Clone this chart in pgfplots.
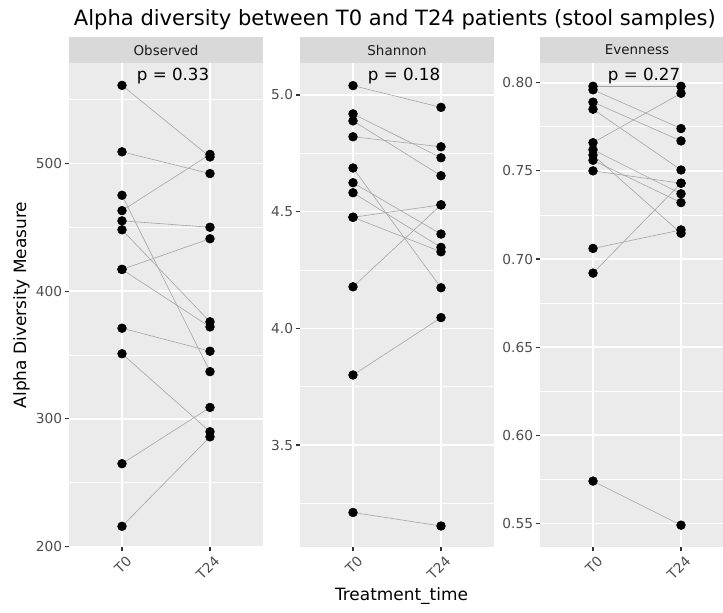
\documentclass[border=0pt]{standalone}
\usepackage{fontspec}
\setmainfont{DejaVu Sans}
\usepackage{pgfplots}
\usepackage{pgfplotstable}
\pgfplotsset{compat=1.18}
\definecolor{panelbg}{RGB}{235,235,235}
\definecolor{stripbg}{RGB}{217,217,217}
\definecolor{axistext}{RGB}{77,77,77}
\definecolor{striptext}{RGB}{26,26,26}
\definecolor{tickc}{RGB}{51,51,51}
\definecolor{linec}{RGB}{165,165,165}

\pgfplotstableread{
t0 t24
561 505
509 492
475 337
463 507
455 450
448 376
417 441
417 372
371 353
351 290
265 309
216 286
}\obs
\pgfplotstableread{
t0 t24
5.040 4.947
4.919 4.731
4.889 4.654
4.821 4.778
4.687 4.174
4.624 4.404
4.581 4.347
4.476 4.529
4.476 4.328
4.178 4.529
3.800 4.046
3.211 3.153
}\sha
\pgfplotstableread{
t0 t24
0.798 0.798
0.796 0.774
0.789 0.767
0.785 0.7505
0.766 0.794
0.762 0.737
0.759 0.7146
0.756 0.732
0.750 0.743
0.706 0.7165
0.692 0.743
0.574 0.549
}\eve

\pgfplotsset{
  facet/.style={
    scale only axis, width=145.2pt, height=363pt, anchor=south west,
    xmin=0.4, xmax=2.6, xtick={1,2}, xticklabels={T0,T24},
    axis background/.style={fill=panelbg},
    axis line style={draw=none},
    xmajorgrids, ymajorgrids, yminorgrids,
    major grid style={white, line width=1.2pt},
    minor grid style={white, line width=0.6pt},
    tick align=outside, xtick pos=bottom, ytick pos=left,
    major tick length=3.15pt, minor tick length=0pt,
    every tick/.style={color=tickc, line width=0.8pt},
    tick label style={font=\fontsize{10.3}{12}\selectfont, text=axistext},
    x tick label style={rotate=45, anchor=north east, inner sep=1pt, yshift=-2.5pt, xshift=1pt},
    y tick label style={anchor=east, inner sep=2pt},
    /pgf/number format/assume math mode=true,
  },
  pairline/.style={linec, line width=0.45pt},
  pt/.style={only marks, mark=*, mark size=3.3pt, black},
}

\begin{document}
\begin{tikzpicture}
\useasboundingbox (0,0) rectangle (542.25pt,459pt);
\clip (0,0) rectangle (542.25pt,459pt);

% Observed
\begin{axis}[facet, name=ax1, at={(51.9pt,48.75pt)},
  ymin=199.8, ymax=578.5, ytick={200,300,400,500}, minor ytick={250,350,450,550}]
\addplot[pairline, quiver={u=1, v=\thisrow{t24}-\thisrow{t0}}] table[x expr=1, y=t0] {\obs};
\addplot[pt] table[x expr=1, y=t0] {\obs};
\addplot[pt] table[x expr=2, y=t24] {\obs};
\node[font=\fontsize{12.5}{15}\selectfont] at (axis cs:1.58,568) {p = 0.33};
\end{axis}

% Shannon
\begin{axis}[facet, name=ax2, at={(225.15pt,48.75pt)},
  ymin=3.063, ymax=5.137, ytick={3.5,4.0,4.5,5.0}, minor ytick={3.25,3.75,4.25,4.75},
  yticklabel style={/pgf/number format/.cd, fixed, fixed zerofill, precision=1}]
\addplot[pairline, quiver={u=1, v=\thisrow{t24}-\thisrow{t0}}] table[x expr=1, y=t0] {\sha};
\addplot[pt] table[x expr=1, y=t0] {\sha};
\addplot[pt] table[x expr=2, y=t24] {\sha};
\node[font=\fontsize{12.5}{15}\selectfont] at (axis cs:1.58,5.081) {p = 0.18};
\end{axis}

% Evenness
\begin{axis}[facet, name=ax3, at={(405.15pt,48.75pt)},
  ymin=0.5366, ymax=0.8112, ytick={0.55,0.60,0.65,0.70,0.75,0.80},
  minor ytick={0.575,0.625,0.675,0.725,0.775},
  yticklabel style={/pgf/number format/.cd, fixed, fixed zerofill, precision=2}]
\addplot[pairline, quiver={u=1, v=\thisrow{t24}-\thisrow{t0}}] table[x expr=1, y=t0] {\eve};
\addplot[pt] table[x expr=1, y=t0] {\eve};
\addplot[pt] table[x expr=2, y=t24] {\eve};
\node[font=\fontsize{12.5}{15}\selectfont] at (axis cs:1.58,0.8038) {p = 0.27};
\end{axis}

% strips
\foreach \a/\t in {ax1/Observed, ax2/Shannon, ax3/Evenness}{
  \fill[stripbg] (\a.north west) rectangle ([yshift=19.5pt]\a.north east);
  \node[font=\fontsize{10.1}{12}\selectfont, text=striptext] at ([yshift=9.75pt]\a.north) {\t};
}

% titles
\node[anchor=base west, font=\fontsize{15.8}{18}\selectfont] at (51.9pt,440pt)
  {Alpha diversity between T0 and T24 patients (stool samples)};
\node[anchor=base, font=\fontsize{12.7}{15}\selectfont] at (301.1pt,8.5pt) {Treatment\_time};
\node[rotate=90, font=\fontsize{12.7}{15}\selectfont] at (16.1pt,230.25pt) {Alpha Diversity Measure};
\end{tikzpicture}
\end{document}
